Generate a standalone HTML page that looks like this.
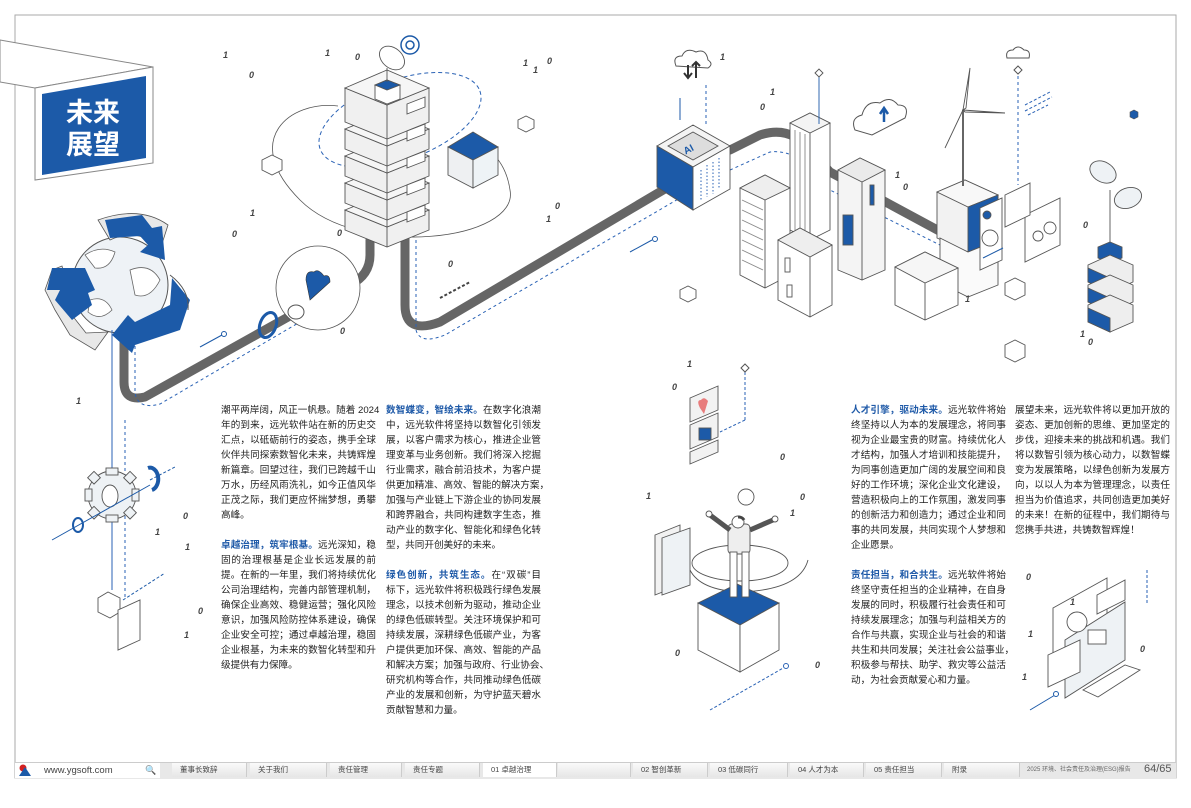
<!DOCTYPE html>
<html><head><meta charset="utf-8">
<style>
html,body{margin:0;padding:0;background:#fff;}
body{width:1191px;height:808px;position:relative;overflow:hidden;font-family:"Liberation Sans","Noto Sans CJK SC",sans-serif;}
svg{position:absolute;left:0;top:0;}
.col{position:absolute;width:155px;font-size:9.6px;line-height:15px;color:#222;font-family:"Liberation Sans","Noto Sans CJK SC",sans-serif;}
.col div{white-space:nowrap;text-align:justify;text-align-last:justify;height:15px;overflow:visible;}
.col div.l{text-align-last:left;}
.col b{color:#1f5aa8;font-weight:bold;}
.foot{position:absolute;top:763px;height:15px;font-size:7.5px;line-height:15px;color:#555;font-family:"Liberation Sans","Noto Sans CJK SC",sans-serif;}
.cell{position:absolute;top:763px;height:14px;background:linear-gradient(#fafafa,#e6e6e6);border-right:1px solid #ccc;font-size:7.5px;line-height:14px;color:#444;padding-left:8px;box-sizing:border-box;font-family:"Liberation Sans","Noto Sans CJK SC",sans-serif;}
</style></head><body>
<svg width="1191" height="808" viewBox="0 0 1191 808" xmlns="http://www.w3.org/2000/svg">
<path d="M15 15 H1176 V778 H15 Z" fill="none" stroke="#aaa"/>
<!-- Title box -->
<polygon points="0,40 153,67 35,88 0,82" fill="#fff" stroke="#888"/>
<polygon points="35,88 153,67 153,163 35,180" fill="#fff" stroke="#888"/>
<polygon points="42,94 146,76 146,158 42,175" fill="#1c5aa8"/>
<text x="66" y="122" font-size="27" font-weight="bold" fill="#fff" font-family="Liberation Sans, Noto Sans CJK SC, sans-serif">未来</text>
<text x="66" y="154" font-size="27" font-weight="bold" fill="#fff" font-family="Liberation Sans, Noto Sans CJK SC, sans-serif">展望</text>

<path d="M338 106 C 290 100, 240 140, 300 200 C 360 260, 520 240, 510 190 C 505 155, 480 145, 488 150" fill="none" stroke="#555" stroke-width="0.8"/>
<ellipse cx="400" cy="120" rx="85" ry="40" transform="rotate(-20 400 120)" fill="none" stroke="#2a62b5" stroke-width="1" stroke-dasharray="4,3"/>

<g fill="none" stroke="#666" stroke-width="9" stroke-linecap="round" stroke-linejoin="round">
<path d="M124 333 V382 Q124 402 145 397 L297 312"/>
<path d="M370 240 V255 Q370 275 350 285"/>
<path d="M405 238 V305 Q405 335 440 322 L675 183"/>
<path d="M730 150 L760 135 Q790 125 810 150 L830 172 L943 233"/>
</g>
<g fill="none" stroke="#2a62b5" stroke-width="1" stroke-dasharray="3,3">
<path d="M135 340 V393 Q138 410 160 404 L300 322"/>
<path d="M416 240 V330 Q420 345 445 335 L680 198"/>
<path d="M730 170 L770 152 Q800 148 830 190 L950 250"/>
<path d="M125 420 V600"/>
</g>
<path d="M440 298 L470 282" stroke="#444" stroke-width="2" stroke-dasharray="3,2"/>

<!-- Globe + recycle -->
<circle cx="120" cy="285" r="48" fill="#eef2f6" stroke="#555" stroke-width="1"/>
<path d="M85 255 Q100 245 115 252 Q110 270 95 268 Z M130 270 Q150 262 160 280 Q150 300 135 295 Z M90 300 Q105 295 112 310 Q100 322 88 312 Z" fill="#fff" stroke="#666" stroke-width="0.8"/>
<path d="M98 220 Q140 205 168 225 L160 250 L150 240 Q130 230 110 240 Z" fill="#e8e8e8" stroke="#555" stroke-width="0.8"/>
<polygon points="105,220 142,215 152,228 162,226 165,260 140,252 148,245 140,236 110,238" fill="#1c5aa8"/>
<polygon points="52,270 62,266 68,288 60,300 86,333 108,332 95,350 70,335 55,310 45,290" fill="#e8e8e8" stroke="#555" stroke-width="0.8"/>
<polygon points="52,268 85,268 95,290 88,293 92,305 72,320 55,300 60,290 47,290" fill="#1c5aa8"/>
<polygon points="172,278 190,300 180,330 135,345 132,353 112,335 128,315 135,322 170,305" fill="#1c5aa8"/>
<path d="M170 275 Q190 290 188 310" fill="none" stroke="#555"/>

<circle cx="318" cy="288" r="42" fill="#fff" stroke="#555" stroke-width="0.8"/>
<ellipse cx="296" cy="312" rx="8" ry="7" fill="#fff" stroke="#555"/>
<path d="M310 300 L306 280 Q306 270 314 272 Q318 268 324 276 Q330 274 330 282 Z" fill="#1c5aa8" stroke="#333" stroke-width="0.6"/>
<ellipse cx="268" cy="325" rx="8" ry="13" transform="rotate(20 268 325)" fill="none" stroke="#1c5aa8" stroke-width="3"/>
<line x1="200" y1="347" x2="222" y2="335" stroke="#1c5aa8"/><circle cx="224" cy="334" r="2.5" fill="#fff" stroke="#1c5aa8"/>

<!-- Server stack -->
<g stroke="#555" stroke-width="0.9">
<polygon points="345,210 387,227 429,210 429,230 387,247 345,230" fill="#f0f0f0"/>
<polygon points="345,210 387,193 429,210 387,227" fill="#f6f6f6"/>
<polygon points="345,183 387,200 429,183 429,203 387,220 345,203" fill="#f0f0f0"/>
<polygon points="345,183 387,166 429,183 387,200" fill="#f6f6f6"/>
<polygon points="345,156 387,173 429,156 429,176 387,193 345,176" fill="#f0f0f0"/>
<polygon points="345,156 387,139 429,156 387,173" fill="#f6f6f6"/>
<polygon points="345,129 387,146 429,129 429,149 387,166 345,149" fill="#f0f0f0"/>
<polygon points="345,129 387,112 429,129 387,146" fill="#f6f6f6"/>
<polygon points="345,88 387,105 429,88 429,122 387,139 345,122" fill="#f0f0f0"/>
<polygon points="345,88 387,70 429,88 387,105" fill="#f6f6f6"/>
<line x1="387" y1="105" x2="387" y2="247"/>
<polygon points="407,104 425,97 425,107 407,114" fill="#fff"/>
<polygon points="407,131 425,124 425,134 407,141" fill="#fff"/>
<polygon points="407,158 425,151 425,161 407,168" fill="#fff"/>
<polygon points="407,185 425,178 425,188 407,195" fill="#fff"/>
<polygon points="407,212 425,205 425,215 407,222" fill="#fff"/>
<polygon points="375,85 387,80 400,85 400,99 387,104 375,99" fill="#fff"/>
<polygon points="375,85 387,80 400,85 387,90" fill="#1c5aa8"/>
<ellipse cx="392" cy="58" rx="14" ry="10" transform="rotate(40 392 58)" fill="#fff"/>
<line x1="387" y1="68" x2="387" y2="82"/>
</g>
<circle cx="410" cy="45" r="9" fill="none" stroke="#1c5aa8" stroke-width="1.5"/>
<circle cx="410" cy="45" r="4" fill="none" stroke="#1c5aa8" stroke-width="1.5"/>

<g stroke="#555" stroke-width="0.9">
<polygon points="448,147 473,132 498,147 473,160" fill="#1c5aa8"/>
<polygon points="448,147 473,160 473,188 448,175" fill="#eef0f2"/>
<polygon points="473,160 498,147 498,175 473,188" fill="#eef3f6"/>
<polygon points="518,120 526,116 534,120 534,128 526,132 518,128" fill="#fff"/>
<polygon points="262,160 272,155 282,160 282,170 272,175 262,170" fill="#fff"/>
<polygon points="680,290 688,286 696,290 696,298 688,302 680,298" fill="#fff"/>
<polygon points="1005,345 1015,340 1025,345 1025,357 1015,362 1005,357" fill="#fff"/>
<polygon points="1005,283 1015,278 1025,283 1025,295 1015,300 1005,295" fill="#fff"/>
</g>

<!-- AI cube -->
<g stroke="#555" stroke-width="0.9">
<polygon points="657,146 693,125 730,146 693,167" fill="#f4f4f4"/>
<polygon points="668,146 693,132 718,146 693,160" fill="#ddd"/>
<polygon points="657,146 693,167 693,210 657,187" fill="#1c5aa8"/>
<polygon points="693,167 730,146 730,189 693,210" fill="#fff"/>
</g>
<text x="684" y="152" font-size="10" font-weight="bold" fill="#1c5aa8" transform="rotate(-28 690 150)">AI</text>
<g fill="none" stroke="#2a62b5" stroke-dasharray="1.5,2">
<line x1="701" y1="170" x2="701" y2="200"/><line x1="707" y1="165" x2="707" y2="197"/>
<line x1="713" y1="162" x2="713" y2="194"/><line x1="719" y1="158" x2="719" y2="188"/>
</g>
<path d="M676 66 Q672 56 682 56 Q686 47 696 52 Q706 48 708 60 Q714 64 708 68 Z" fill="#fff" stroke="#555"/>
<path d="M688 65 V78 M684 73 L688 78 L692 73 M696 78 V62 M692 66 L696 62 L700 66" stroke="#333" stroke-width="2" fill="none"/>
<line x1="680" y1="98" x2="680" y2="120" stroke="#1c5aa8"/>
<line x1="706" y1="85" x2="706" y2="125" stroke="#2a62b5" stroke-dasharray="3,3"/>

<!-- buildings -->
<g stroke="#555" stroke-width="0.9">
<polygon points="790,123 810,113 830,123 830,230 810,240 790,230" fill="#fff"/>
<polygon points="790,123 810,113 830,123 810,133" fill="#f4f4f4"/>
<line x1="810" y1="133" x2="810" y2="240"/>
<path d="M795 130 V230 M800 132 V232 M805 134 V236" stroke="#888"/>
<line x1="819" y1="73" x2="819" y2="124" stroke="#1c5aa8"/>
<polygon points="815,73 819,69 823,73 819,77" fill="#fff" stroke="#555"/>
<polygon points="740,188 765,175 790,188 790,275 765,288 740,275" fill="#fff"/>
<polygon points="740,188 765,175 790,188 765,200" fill="#eee"/>
<line x1="765" y1="200" x2="765" y2="288"/>
<path d="M742 200 L763 210 M742 210 L763 220 M742 220 L763 230 M742 230 L763 240 M742 240 L763 250 M742 250 L763 260 M742 260 L763 270" stroke="#888"/>
<polygon points="778,240 800,228 832,245 832,305 810,317 778,300" fill="#fff"/>
<polygon points="778,240 800,228 832,245 810,257" fill="#eee"/>
<line x1="810" y1="257" x2="810" y2="317"/>
<rect x="785" y="258" width="5" height="14" fill="#fff"/><rect x="787" y="285" width="5" height="12" fill="#fff"/>
<polygon points="838,170 860,158 885,170 885,270 862,280 838,270" fill="#f4f4f4"/>
<polygon points="838,170 860,158 885,170 862,182" fill="#eaeaea"/>
<line x1="862" y1="182" x2="862" y2="280"/>
<rect x="843" y="215" width="10" height="30" fill="#1c5aa8"/>
<rect x="870" y="185" width="4" height="20" fill="#1c5aa8"/>
</g>
<path d="M855 130 Q850 118 862 115 Q866 100 880 103 Q890 95 898 105 Q910 105 905 118 L872 135 Z" fill="#fff" stroke="#555"/>
<path d="M884 122 V110 M880 114 L884 108 L888 114" stroke="#1c5aa8" stroke-width="2.5" fill="none"/>

<g stroke="#555" stroke-width="0.9">
<polygon points="937,192 965,180 998,195 998,240 968,252 937,238" fill="#f2f2f2"/>
<polygon points="937,192 965,180 998,195 968,207" fill="#f8f8f8"/>
<polygon points="968,207 998,195 998,240 968,252" fill="#1c5aa8"/>
<polygon points="940,238 968,252 998,240 998,285 968,297 940,283" fill="#fafafa"/>
<line x1="963" y1="110" x2="963" y2="186" stroke-width="2" stroke="#666"/>
<path d="M963 110 L970 68 L966 108 Z M963 110 L1005 113 L965 112 Z M963 110 L945 148 L962 112 Z" fill="#fff"/>
<polygon points="980,208 1002,198 1002,260 980,270" fill="#fff"/>
<circle cx="990" cy="238" r="8" fill="#fff"/>
<circle cx="987" cy="215" r="4" fill="#1c5aa8"/>
<polygon points="1025,215 1060,198 1060,245 1025,262" fill="#fff"/>
<polygon points="1005,195 1030,183 1030,215 1005,227" fill="#fff"/>
<circle cx="1038" cy="236" r="5" fill="#fff"/><circle cx="1050" cy="228" r="6" fill="#fff"/>
<polygon points="895,267 925,252 958,268 958,305 925,320 895,305" fill="#fff"/>
<polygon points="895,267 925,252 958,268 925,283" fill="#f6f6f6"/>
<line x1="925" y1="283" x2="925" y2="320"/>
</g>
<line x1="1018" y1="70" x2="1018" y2="185" stroke="#2a62b5" stroke-dasharray="3,3"/>
<polygon points="1014,70 1018,66 1022,70 1018,74" fill="#fff" stroke="#555"/>
<path d="M1007 58 Q1005 50 1013 50 Q1018 44 1024 50 Q1031 50 1029 58 Z" fill="#fff" stroke="#555"/>
<path d="M1025 105 L1050 92 M1025 111 L1052 97 M1028 115 L1048 105" stroke="#2a62b5" stroke-dasharray="3,2"/>
<g stroke="#555" stroke-width="0.9">
<line x1="1110" y1="245" x2="1110" y2="190"/>
<ellipse cx="1103" cy="172" rx="14" ry="10" transform="rotate(30 1103 172)" fill="#eef2f5"/>
<ellipse cx="1128" cy="198" rx="14" ry="10" transform="rotate(-20 1128 198)" fill="#eef2f5"/>
<polygon points="1098,247 1110,242 1122,247 1122,258 1110,263 1098,258" fill="#1c5aa8"/>
<polygon points="1088,265 1110,255 1133,265 1133,282 1110,292 1088,282" fill="#eee"/>
<polygon points="1088,268 1110,278 1110,292 1088,282" fill="#1c5aa8"/>
<polygon points="1088,285 1110,275 1133,285 1133,302 1110,312 1088,302" fill="#eee"/>
<polygon points="1088,288 1110,298 1110,312 1088,302" fill="#1c5aa8"/>
<polygon points="1088,305 1110,295 1133,305 1133,322 1110,332 1088,322" fill="#eee"/>
<polygon points="1088,308 1110,318 1110,332 1088,322" fill="#1c5aa8"/>
</g>
<polygon points="1130,112 1134,110 1138,112 1138,117 1134,119 1130,117" fill="#1c5aa8" stroke="#555" stroke-width="0.6"/>

<!-- gear, doc -->
<line x1="112" y1="330" x2="112" y2="470" stroke="#2a62b5"/>
<line x1="112" y1="518" x2="112" y2="590" stroke="#2a62b5"/>
<g stroke="#555" stroke-width="0.9">
<circle cx="112" cy="495" r="24" fill="#eef2f5"/>
<g fill="#eef2f5">
<rect x="106" y="468" width="12" height="7"/><rect x="106" y="515" width="12" height="7"/>
<rect x="85" y="489" width="7" height="12"/><rect x="132" y="489" width="7" height="12"/>
<rect x="90" y="473" width="9" height="9" transform="rotate(45 94 477)"/><rect x="126" y="508" width="9" height="9" transform="rotate(45 130 512)"/>
<rect x="126" y="473" width="9" height="9" transform="rotate(45 130 477)"/><rect x="90" y="508" width="9" height="9" transform="rotate(45 94 512)"/>
</g>
<ellipse cx="110" cy="496" rx="8" ry="11" fill="#fff"/>
<polygon points="98,598 108,592 120,598 120,612 110,618 98,612" fill="#fff"/>
<polygon points="118,610 140,600 140,640 118,650" fill="#fff"/>
</g>
<line x1="52" y1="540" x2="150" y2="485" stroke="#1c5aa8"/>
<ellipse cx="78" cy="525" rx="5" ry="7" fill="none" stroke="#1c5aa8" stroke-width="2"/>
<path d="M148 468 A 8 11 0 1 1 152 490" fill="none" stroke="#1c5aa8" stroke-width="4"/>
<line x1="150" y1="480" x2="175" y2="467" stroke="#1c5aa8" stroke-dasharray="3,2"/>
<line x1="123" y1="600" x2="165" y2="573" stroke="#1c5aa8" stroke-dasharray="3,2"/>

<!-- person -->
<g stroke="#555" stroke-width="0.9">
<polygon points="690,398 718,386 718,410 690,422" fill="#f2f2f2"/>
<path d="M700 408 Q696 400 701 400 Q704 396 708 401 L704 414 Z" fill="#e87c7c" stroke="none"/>
<polygon points="690,425 718,413 718,437 690,449" fill="#f2f2f2"/>
<rect x="699" y="428" width="12" height="12" fill="#1c5aa8"/>
<polygon points="690,452 718,440 718,452 690,464" fill="#f2f2f2"/>
<polygon points="655,535 680,525 680,585 655,595" fill="#f2f2f2"/>
<polygon points="662,538 690,528 690,585 662,595" fill="#eef2f5"/>
<ellipse cx="740" cy="563" rx="48" ry="18" fill="none"/>
<path d="M690 570 Q700 590 740 592 Q800 590 808 560" fill="none"/>
<polygon points="698,603 737,584 779,603 740,625" fill="#1c5aa8"/>
<polygon points="698,603 740,625 740,672 698,650" fill="#fff"/>
<polygon points="740,625 779,603 779,650 740,672" fill="#fff"/>
<rect x="728" y="524" width="22" height="30" rx="4" fill="#eee"/>
<rect x="730" y="552" width="7" height="45" fill="#fff"/><rect x="742" y="552" width="7" height="45" fill="#fff"/>
<circle cx="738" cy="522" r="6" fill="#fff"/>
<path d="M738 517 a6 5 0 0 1 6 3" stroke="#444" stroke-width="3" fill="none"/>
<path d="M730 530 L710 515 M750 530 L773 520" stroke-width="5" stroke="#555" fill="none"/>
<circle cx="709" cy="514" r="3" fill="#fff"/><circle cx="775" cy="519" r="3" fill="#fff"/>
<circle cx="746" cy="497" r="8" fill="#fff"/>
</g>
<line x1="745" y1="372" x2="745" y2="420" stroke="#2a62b5" stroke-dasharray="3,2"/>
<line x1="745" y1="420" x2="720" y2="432" stroke="#2a62b5" stroke-dasharray="3,2"/>
<polygon points="741,368 745,364 749,368 745,372" fill="#fff" stroke="#555"/>
<line x1="710" y1="710" x2="785" y2="667" stroke="#2a62b5" stroke-dasharray="3,2"/>
<circle cx="786" cy="666" r="2.5" fill="#fff" stroke="#2a62b5"/>

<!-- computer -->
<g stroke="#555" stroke-width="0.9">
<polygon points="1053,608 1107,578 1107,635 1053,665" fill="#fff"/>
<polygon points="1097,595 1125,580 1125,600 1097,614" fill="#fff"/>
<polygon points="1065,640 1125,602 1125,660 1065,698" fill="#eef2f5"/>
<polygon points="1048,655 1080,640 1080,672 1048,687" fill="#fff"/>
<polygon points="1083,690 1125,665 1140,670 1098,697" fill="#fff"/>
<circle cx="1077" cy="622" r="10" fill="#fff"/>
<rect x="1088" y="630" width="18" height="14" fill="#fff"/>
</g>
<line x1="1030" y1="710" x2="1055" y2="695" stroke="#1c5aa8"/><circle cx="1056" cy="694" r="2.5" fill="#fff" stroke="#1c5aa8"/>
<line x1="1147" y1="570" x2="1147" y2="605" stroke="#2a62b5" stroke-dasharray="3,2"/>
<line x1="983" y1="258" x2="1003" y2="248" stroke="#1c5aa8"/>
<line x1="630" y1="252" x2="652" y2="240" stroke="#1c5aa8"/><circle cx="655" cy="239" r="2.5" fill="#fff" stroke="#1c5aa8"/>

<g font-size="9" font-weight="bold" fill="#444" font-style="italic" font-family="Liberation Sans, sans-serif">
<text x="223" y="58">1</text><text x="249" y="78">0</text><text x="325" y="56">1</text><text x="547" y="64">0</text>
<text x="523" y="66">1</text><text x="533" y="73">1</text><text x="555" y="209">0</text><text x="546" y="222">1</text>
<text x="337" y="236">0</text><text x="448" y="267">0</text><text x="250" y="216">1</text><text x="232" y="237">0</text>
<text x="76" y="404">1</text><text x="183" y="519">0</text><text x="155" y="535">1</text><text x="185" y="550">1</text>
<text x="198" y="614">0</text><text x="184" y="638">1</text><text x="687" y="367">1</text><text x="672" y="390">0</text>
<text x="780" y="460">0</text><text x="646" y="499">1</text><text x="800" y="500">0</text><text x="790" y="516">1</text>
<text x="675" y="656">0</text><text x="815" y="668">0</text><text x="760" y="110">0</text><text x="770" y="95">1</text>
<text x="895" y="178">1</text><text x="903" y="190">0</text><text x="1083" y="228">0</text><text x="1080" y="337">1</text>
<text x="1088" y="345">0</text><text x="1028" y="637">1</text><text x="1070" y="605">1</text><text x="1140" y="652">0</text>
<text x="1022" y="680">1</text><text x="1026" y="580">0</text><text x="965" y="302">1</text><text x="720" y="60">1</text>
<text x="355" y="60">0</text><text x="340" y="334">0</text>
</g>
</svg>

<div class="col" style="left:221px;top:403px;">
<div>潮平两岸阔，风正一帆悬。随着 2024</div>
<div>年的到来，远光软件站在新的历史交</div>
<div>汇点，以砥砺前行的姿态，携手全球</div>
<div>伙伴共同探索数智化未来，共铸辉煌</div>
<div>新篇章。回望过往，我们已跨越千山</div>
<div>万水，历经风雨洗礼，如今正值风华</div>
<div>正茂之际，我们更应怀揣梦想，勇攀</div>
<div class="l">高峰。</div>
<div class="l"></div>
<div><b>卓越治理，筑牢根基。</b>远光深知，稳</div>
<div>固的治理根基是企业长远发展的前</div>
<div>提。在新的一年里，我们将持续优化</div>
<div>公司治理结构，完善内部管理机制，</div>
<div>确保企业高效、稳健运营；强化风险</div>
<div>意识，加强风险防控体系建设，确保</div>
<div>企业安全可控；通过卓越治理，稳固</div>
<div>企业根基，为未来的数智化转型和升</div>
<div class="l">级提供有力保障。</div>
</div>

<div class="col" style="left:386px;top:403px;">
<div><b>数智蝶变，智绘未来。</b>在数字化浪潮</div>
<div>中，远光软件将坚持以数智化引领发</div>
<div>展，以客户需求为核心，推进企业管</div>
<div>理变革与业务创新。我们将深入挖掘</div>
<div>行业需求，融合前沿技术，为客户提</div>
<div>供更加精准、高效、智能的解决方案，</div>
<div>加强与产业链上下游企业的协同发展</div>
<div>和跨界融合，共同构建数字生态，推</div>
<div>动产业的数字化、智能化和绿色化转</div>
<div class="l">型，共同开创美好的未来。</div>
<div class="l"></div>
<div><b>绿色创新，共筑生态。</b>在“双碳”目</div>
<div>标下，远光软件将积极践行绿色发展</div>
<div>理念，以技术创新为驱动，推动企业</div>
<div>的绿色低碳转型。关注环境保护和可</div>
<div>持续发展，深耕绿色低碳产业，为客</div>
<div>户提供更加环保、高效、智能的产品</div>
<div>和解决方案；加强与政府、行业协会、</div>
<div>研究机构等合作，共同推动绿色低碳</div>
<div>产业的发展和创新，为守护蓝天碧水</div>
<div class="l">贡献智慧和力量。</div>
</div>

<div class="col" style="left:851px;top:403px;">
<div><b>人才引擎，驱动未来。</b>远光软件将始</div>
<div>终坚持以人为本的发展理念，将同事</div>
<div>视为企业最宝贵的财富。持续优化人</div>
<div>才结构，加强人才培训和技能提升，</div>
<div>为同事创造更加广阔的发展空间和良</div>
<div>好的工作环境；深化企业文化建设，</div>
<div>营造积极向上的工作氛围，激发同事</div>
<div>的创新活力和创造力；通过企业和同</div>
<div>事的共同发展，共同实现个人梦想和</div>
<div class="l">企业愿景。</div>
<div class="l"></div>
<div><b>责任担当，和合共生。</b>远光软件将始</div>
<div>终坚守责任担当的企业精神，在自身</div>
<div>发展的同时，积极履行社会责任和可</div>
<div>持续发展理念；加强与利益相关方的</div>
<div>合作与共赢，实现企业与社会的和谐</div>
<div>共生和共同发展；关注社会公益事业，</div>
<div>积极参与帮扶、助学、救灾等公益活</div>
<div class="l">动，为社会贡献爱心和力量。</div>
</div>

<div class="col" style="left:1015px;top:403px;">
<div>展望未来，远光软件将以更加开放的</div>
<div>姿态、更加创新的思维、更加坚定的</div>
<div>步伐，迎接未来的挑战和机遇。我们</div>
<div>将以数智引领为核心动力，以数智蝶</div>
<div>变为发展策略，以绿色创新为发展方</div>
<div>向，以以人为本为管理理念，以责任</div>
<div>担当为价值追求，共同创造更加美好</div>
<div>的未来！在新的征程中，我们期待与</div>
<div class="l">您携手共进，共铸数智辉煌！</div>
</div>

<div style="position:absolute;left:15px;top:762px;width:1161px;height:16px;background:#e8e8e8;border-top:1px solid #ccc;"></div>
<div style="position:absolute;left:15px;top:763px;width:145px;height:15px;background:#fff;"></div>
<svg style="left:18px;top:764px" width="14" height="13"><circle cx="5" cy="4" r="3.5" fill="#d42020"/><polygon points="1,12 7,3 13,12" fill="#1c5aa8"/></svg>
<div class="foot" style="left:44px;font-size:9.5px;color:#444;">www.ygsoft.com</div>
<div class="foot" style="left:145px;font-size:9px;">&#128269;</div>
<div class="cell" style="left:172px;width:75px;">董事长致辞</div>
<div class="cell" style="left:250px;width:77px;">关于我们</div>
<div class="cell" style="left:330px;width:72px;">责任管理</div>
<div class="cell" style="left:405px;width:75px;">责任专题</div>
<div class="cell" style="left:483px;width:74px;background:#fff;">01 卓越治理</div>
<div class="cell" style="left:558px;width:73px;"></div>
<div class="cell" style="left:633px;width:75px;">02 智创革新</div>
<div class="cell" style="left:710px;width:78px;">03 低碳同行</div>
<div class="cell" style="left:790px;width:74px;">04 人才为本</div>
<div class="cell" style="left:866px;width:76px;">05 责任担当</div>
<div class="cell" style="left:944px;width:76px;">附录</div>
<div class="foot" style="left:1027px;font-size:6px;color:#666;">2025 环境、社会责任及治理(ESG)报告</div>
<div class="foot" style="left:1144px;top:762px;font-size:11px;color:#555;">64/65</div>
</body></html>
